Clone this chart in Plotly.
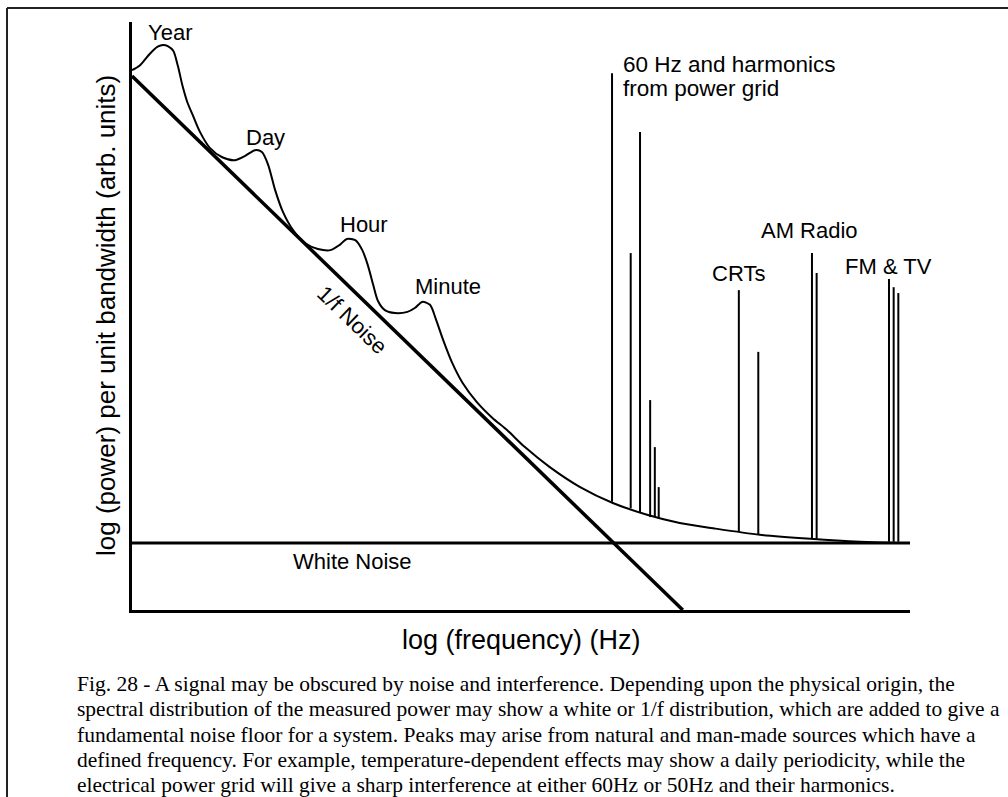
import plotly.graph_objects as go

# Measured spectrum envelope: log frequency vs log power (arbitrary units, 0-100)
env_x = [0.0, 1.0, 2.3, 3.3, 4.0, 4.6, 5.3, 5.9, 6.5, 7.1, 7.8, 8.7, 10.0, 11.6, 13.2,
         14.5, 15.8, 16.7, 17.5, 18.4, 19.4, 20.7, 22.2, 23.9, 25.5, 26.7, 27.6,
         28.7, 29.6, 30.3, 31.0, 31.6, 32.5, 33.8, 35.4, 36.4, 37.3, 38.3, 39.1,
         40.0, 41.1, 42.5, 44.3, 46.3, 48.2, 50.5, 53.7, 57.6, 61.8, 66.2, 70.4,
         74.7, 80.7, 87.2, 93.6, 98.7, 100.0]
env_y = [91.8, 92.6, 94.6, 95.8, 96.1, 95.9, 95.1, 92.5, 89.1, 86.4, 84.2, 81.4, 78.6,
         77.0, 76.5, 77.2, 78.2, 77.9, 75.7, 71.4, 67.7, 64.6, 62.4, 61.4, 61.2,
         62.1, 63.1, 62.9, 61.2, 58.7, 55.3, 52.6, 51.0, 50.5, 50.7, 51.4, 52.4,
         51.9, 49.3, 45.9, 42.2, 38.6, 35.4, 32.7, 30.6, 27.7, 24.3, 20.9, 18.2,
         16.2, 14.8, 13.9, 12.8, 12.1, 11.6, 11.4, 11.4]

# 1/f noise asymptote
flicker_x = [0.0, 70.8]
flicker_y = [90.8, 0.0]

# White noise floor
white_x = [0.0, 100.0]
white_y = [11.4, 11.4]

# Discrete interference lines: power grid harmonics, CRTs, AM radio, FM & TV
peak_x = [61.7, 64.1, 65.3, 66.6, 67.2, 67.7, 78.0, 80.5, 87.4, 88.0, 97.3, 97.9, 98.5]
peak_top = [91.3, 60.7, 81.3, 35.7, 27.7, 20.9, 54.4, 43.9, 60.7, 57.3, 56.3, 54.9, 53.9]
peak_base = [18.4, 17.3, 16.5, 15.8, 15.8, 15.5, 13.3, 12.8, 12.1, 12.1, 11.6, 11.6, 11.6]

# Feature labels
label_text = ["Year", "Day", "Hour", "Minute", "CRTs", "AM Radio", "FM & TV", "White Noise",
              "60 Hz and harmonics", "from power grid"]
label_x = [4.9, 17.1, 29.8, 40.6, 78.0, 87.1, 97.3, 28.4, 62.8, 62.8]
label_y = [98.3, 80.3, 65.5, 55.0, 57.2, 64.6, 58.5, 8.3, 92.7, 88.7]
label_anchor = ["center"] * 8 + ["left", "left"]

flicker_label = "1/f Noise"
flicker_label_pos = (28.4, 49.3)

x_title = "log (frequency) (Hz)"
y_title = "log (power) per unit bandwidth (arb. units)"

caption_lines = [
    "Fig. 28 - A signal may be obscured by noise and interference. Depending upon the physical origin, the",
    "spectral distribution of the measured power may show a white or 1/f distribution, which are added to give a",
    "fundamental noise floor for a system. Peaks may arise from natural and man-made sources which have a",
    "defined frequency. For example, temperature-dependent effects may show a daily periodicity, while the",
    "electrical power grid will give a sharp interference at either 60Hz or 50Hz and their harmonics.",
]

W, H = 1008, 797
L, R, T, B = 132, 98, 22, 187
PW, PH = W - L - R, H - T - B


def px_to_paper(px, py):
    return (px - L) / PW, (H - B - py) / PH


SANS = "Arial, Liberation Sans, sans-serif"
SERIF = "Times New Roman, Liberation Serif, serif"

fig = go.Figure()

fig.add_trace(go.Scatter(x=white_x, y=white_y, mode="lines",
                         line=dict(color="black", width=3), hoverinfo="skip"))
fig.add_trace(go.Scatter(x=flicker_x, y=flicker_y, mode="lines",
                         line=dict(color="black", width=3.5), hoverinfo="skip"))
fig.add_trace(go.Scatter(x=env_x, y=env_y, mode="lines",
                         line=dict(color="black", width=2, shape="spline", smoothing=0.8),
                         hoverinfo="skip"))

px_list, py_list = [], []
for xv, top, base in zip(peak_x, peak_top, peak_base):
    px_list += [xv, xv, None]
    py_list += [base, top, None]
fig.add_trace(go.Scatter(x=px_list, y=py_list, mode="lines",
                         line=dict(color="black", width=2), hoverinfo="skip"))

annotations = []
for t, xv, yv, anc in zip(label_text, label_x, label_y, label_anchor):
    annotations.append(dict(x=xv, y=yv, xref="x", yref="y", text=t, showarrow=False,
                            xanchor=anc, yanchor="middle",
                            font=dict(family=SANS, size=22.5 if anc == "left" else 22,
                                      color="black")))

annotations.append(dict(x=flicker_label_pos[0], y=flicker_label_pos[1], xref="x", yref="y",
                        text=flicker_label, showarrow=False, textangle=44,
                        xanchor="center", yanchor="middle",
                        font=dict(family=SANS, size=22, color="black")))

# Axis titles
ax, ay = px_to_paper(521, 640)
annotations.append(dict(x=ax, y=ay, xref="paper", yref="paper", text=x_title, showarrow=False,
                        xanchor="center", yanchor="middle",
                        font=dict(family=SANS, size=27, color="black")))
ax, ay = px_to_paper(106, 316)
annotations.append(dict(x=ax, y=ay, xref="paper", yref="paper", text=y_title, showarrow=False,
                        textangle=-90, xanchor="center", yanchor="middle",
                        font=dict(family=SANS, size=26, color="black")))

# Caption
for i, line in enumerate(caption_lines):
    cx, cy = px_to_paper(75, 684 + 25.3 * i)
    annotations.append(dict(x=cx, y=cy, xref="paper", yref="paper", text=line, showarrow=False,
                            xanchor="left", yanchor="middle",
                            font=dict(family=SERIF, size=21.5, color="black")))

# Outer frame (left and top edges)
fx0, fy0 = px_to_paper(7, 8)
fx1, fy1 = px_to_paper(1010, 800)
shapes = [
    dict(type="line", xref="paper", yref="paper", x0=fx0, y0=fy0, x1=fx0, y1=fy1,
         line=dict(color="#222222", width=2)),
    dict(type="line", xref="paper", yref="paper", x0=fx0, y0=fy0, x1=fx1, y1=fy0,
         line=dict(color="#222222", width=2)),
]

fig.update_layout(
    width=W, height=H, autosize=False,
    margin=dict(l=L, r=R, t=T, b=B, pad=0),
    paper_bgcolor="white", plot_bgcolor="white",
    showlegend=False,
    annotations=annotations,
    shapes=shapes,
    xaxis=dict(range=[0, 100], showgrid=False, zeroline=False, showticklabels=False,
               ticks="", showline=True, linecolor="black", linewidth=3, fixedrange=True),
    yaxis=dict(range=[0, 100], showgrid=False, zeroline=False, showticklabels=False,
               ticks="", showline=True, linecolor="black", linewidth=3, fixedrange=True),
)

fig.write_html("out.html", config=dict(displayModeBar=False))
